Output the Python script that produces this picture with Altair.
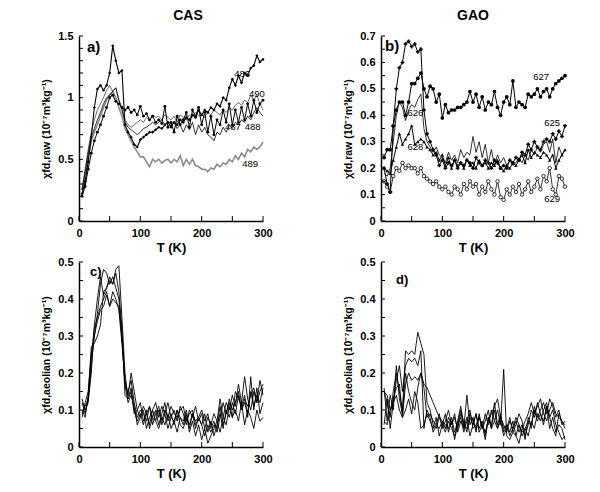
import altair as alt
import pandas as pd

FONT = "Liberation Sans"
W, H = 184, 185

T = [5, 10, 15, 20, 25, 30, 35, 40, 45, 50, 55, 60, 65, 70, 75, 80, 85, 90, 95, 100,
     105, 110, 115, 120, 125, 130, 135, 140, 145, 150, 155, 160, 165, 170, 175, 180, 185, 190, 195, 200,
     205, 210, 215, 220, 225, 230, 235, 240, 245, 250, 255, 260, 265, 270, 275, 280, 285, 290, 295, 300]

# ---- panel a (CAS, raw) ----
a486 = [0.22, 0.32, 0.48, 0.68, 0.92, 1.07, 1.10, 1.06, 1.10, 1.20,
        1.42, 1.30, 1.20, 1.22, 0.78, 0.72, 0.68, 0.62, 0.60, 0.66,
        0.68, 0.70, 0.72, 0.72, 0.74, 0.76, 0.75, 0.78, 0.80, 0.76,
        0.80, 0.78, 0.82, 0.80, 0.84, 0.82, 0.86, 0.84, 0.90, 0.86,
        0.90, 0.88, 0.92, 0.90, 0.95, 0.93, 1.00, 0.98, 1.08, 1.15,
        1.10, 1.18, 1.12, 1.20, 1.18, 1.24, 1.26, 1.34, 1.29, 1.31]
a487 = [0.20, 0.28, 0.42, 0.55, 0.65, 0.72, 0.78, 0.85, 0.92, 1.00,
        1.02, 0.97, 0.95, 0.92, 0.90, 0.92, 0.88, 0.90, 0.86, 0.93,
        0.85, 0.87, 0.82, 0.85, 0.80, 0.82, 0.79, 0.93, 0.76, 0.80,
        0.72, 0.85, 0.78, 0.82, 0.88, 0.76, 0.90, 0.85, 0.92, 0.78,
        0.88, 0.72, 0.85, 0.70, 0.82, 0.78, 0.90, 0.80, 0.95, 0.78,
        0.90, 0.80, 0.92, 0.82, 0.95, 0.85, 0.98, 0.88, 0.95, 0.98]
a488 = [0.25, 0.40, 0.55, 0.68, 0.75, 0.82, 0.88, 0.95, 1.00, 1.02,
        1.05, 1.08, 0.98, 0.90, 0.80, 0.76, 0.74, 0.72, 0.70, 0.72,
        0.75, 0.76, 0.78, 0.80, 0.78, 0.80, 0.82, 0.78, 0.80, 0.77,
        0.80, 0.75, 0.78, 0.72, 0.78, 0.74, 0.80, 0.70, 0.78, 0.72,
        0.76, 0.70, 0.68, 0.65, 0.72, 0.70, 0.76, 0.72, 0.78, 0.75,
        0.80, 0.78, 0.82, 0.80, 0.85, 0.82, 0.88, 0.92, 0.88, 0.85]
a489 = [0.25, 0.38, 0.52, 0.65, 0.72, 0.78, 0.85, 0.92, 0.98, 1.02,
        1.05, 1.00, 0.92, 0.85, 0.75, 0.70, 0.65, 0.60, 0.56, 0.52,
        0.52, 0.48, 0.44, 0.50, 0.48, 0.50, 0.47, 0.49, 0.50, 0.47,
        0.50, 0.48, 0.53, 0.45, 0.50, 0.46, 0.50, 0.45, 0.44, 0.42,
        0.42, 0.40, 0.43, 0.42, 0.46, 0.44, 0.47, 0.46, 0.50, 0.48,
        0.53, 0.50, 0.55, 0.52, 0.58, 0.56, 0.60, 0.58, 0.60, 0.64]
a490 = [0.25, 0.42, 0.58, 0.72, 0.82, 0.90, 0.95, 1.00, 1.06, 1.10,
        1.05, 1.08, 0.98, 0.92, 0.82, 0.78, 0.76, 0.78, 0.80, 0.82,
        0.80, 0.84, 0.82, 0.86, 0.84, 0.85, 0.82, 0.86, 0.84, 0.82,
        0.85, 0.80, 0.86, 0.84, 0.82, 0.86, 0.84, 0.88, 0.85, 0.86,
        0.84, 0.88, 0.86, 0.90, 0.88, 0.86, 0.90, 0.88, 0.92, 0.90,
        0.94, 0.96, 0.94, 0.98, 0.96, 1.02, 0.98, 1.02, 0.95, 0.90]
lbl_a_text = ["486", "490", "487", "488", "489"]
lbl_a_T = [266, 290, 251, 283, 279]
lbl_a_v = [1.19, 1.03, 0.76, 0.76, 0.46]

# ---- panel b (GAO, raw) ----
b625 = [0.20, 0.14, 0.11, 0.36, 0.50, 0.58, 0.60, 0.67, 0.68, 0.66,
        0.67, 0.64, 0.65, 0.42, 0.33, 0.30, 0.27, 0.25, 0.21, 0.23,
        0.20, 0.22, 0.21, 0.23, 0.20, 0.22, 0.21, 0.23, 0.22, 0.20,
        0.24, 0.22, 0.21, 0.23, 0.22, 0.20, 0.23, 0.22, 0.20, 0.21,
        0.20, 0.23, 0.22, 0.24, 0.23, 0.26, 0.25, 0.29, 0.27, 0.30,
        0.28, 0.27, 0.30, 0.31, 0.30, 0.33, 0.31, 0.34, 0.32, 0.36]
b626 = [0.18, 0.17, 0.20, 0.30, 0.40, 0.45, 0.43, 0.38, 0.42, 0.44,
        0.43, 0.46, 0.48, 0.35, 0.30, 0.28, 0.26, 0.28, 0.25, 0.24,
        0.22, 0.26, 0.23, 0.25, 0.22, 0.27, 0.24, 0.26, 0.25, 0.32,
        0.26, 0.30, 0.24, 0.29, 0.22, 0.27, 0.21, 0.25, 0.22, 0.24,
        0.21, 0.23, 0.21, 0.22, 0.24, 0.22, 0.25, 0.23, 0.27, 0.25,
        0.28, 0.26, 0.29, 0.30, 0.26, 0.31, 0.22, 0.28, 0.25, 0.27]
b627 = [0.24, 0.27, 0.27, 0.36, 0.42, 0.45, 0.45, 0.40, 0.45, 0.52,
        0.52, 0.54, 0.56, 0.50, 0.47, 0.51, 0.50, 0.45, 0.48, 0.39,
        0.44, 0.41, 0.42, 0.42, 0.43, 0.43, 0.44, 0.45, 0.49, 0.45,
        0.48, 0.43, 0.47, 0.42, 0.45, 0.44, 0.49, 0.43, 0.40, 0.45,
        0.47, 0.44, 0.53, 0.43, 0.45, 0.44, 0.43, 0.48, 0.47, 0.48,
        0.50, 0.47, 0.49, 0.50, 0.47, 0.50, 0.52, 0.53, 0.54, 0.55]
b628 = [0.20, 0.19, 0.18, 0.23, 0.28, 0.33, 0.29, 0.31, 0.33, 0.36,
        0.29, 0.30, 0.31, 0.30, 0.28, 0.27, 0.25, 0.26, 0.23, 0.25,
        0.21, 0.24, 0.20, 0.23, 0.21, 0.22, 0.20, 0.23, 0.21, 0.22,
        0.20, 0.23, 0.21, 0.22, 0.20, 0.22, 0.21, 0.23, 0.20, 0.19,
        0.21, 0.20, 0.22, 0.21, 0.23, 0.25, 0.22, 0.27, 0.24, 0.26,
        0.25, 0.24, 0.26, 0.25, 0.23, 0.25, 0.20, 0.23, 0.25, 0.27]
b629 = [0.15, 0.13, 0.11, 0.17, 0.20, 0.19, 0.22, 0.20, 0.21, 0.20,
        0.20, 0.18, 0.20, 0.17, 0.16, 0.15, 0.14, 0.15, 0.13, 0.12,
        0.13, 0.11, 0.10, 0.13, 0.12, 0.10, 0.14, 0.12, 0.15, 0.13,
        0.14, 0.10, 0.13, 0.11, 0.15, 0.12, 0.10, 0.15, 0.09, 0.08,
        0.12, 0.10, 0.13, 0.11, 0.14, 0.10, 0.12, 0.15, 0.11, 0.13,
        0.16, 0.12, 0.17, 0.15, 0.20, 0.12, 0.10, 0.17, 0.16, 0.13]
lbl_b_text = ["627", "625", "626", "628", "629"]
lbl_b_T = [261, 279, 56, 56, 279]
lbl_b_v = [0.545, 0.37, 0.41, 0.28, 0.083]

# ---- panel c (CAS, aeolian) ----
c1 = [0.12, 0.09, 0.13, 0.22, 0.30, 0.36, 0.44, 0.48, 0.47, 0.44,
      0.46, 0.43, 0.40, 0.30, 0.16, 0.15, 0.18, 0.12, 0.08, 0.10,
      0.09, 0.07, 0.11, 0.08, 0.10, 0.06, 0.09, 0.12, 0.07, 0.09,
      0.06, 0.10, 0.08, 0.07, 0.10, 0.05, 0.09, 0.07, 0.08, 0.06,
      0.09, 0.04, 0.07, 0.03, 0.06, 0.09, 0.05, 0.10, 0.08, 0.12,
      0.09, 0.14, 0.10, 0.12, 0.09, 0.15, 0.11, 0.14, 0.12, 0.16]
c2 = [0.08, 0.12, 0.15, 0.25, 0.32, 0.35, 0.38, 0.40, 0.42, 0.38,
      0.42, 0.40, 0.37, 0.28, 0.18, 0.14, 0.20, 0.15, 0.10, 0.08,
      0.11, 0.09, 0.06, 0.10, 0.12, 0.08, 0.11, 0.09, 0.12, 0.08,
      0.10, 0.07, 0.11, 0.09, 0.06, 0.10, 0.08, 0.11, 0.07, 0.09,
      0.05, 0.08, 0.06, 0.09, 0.07, 0.13, 0.08, 0.12, 0.10, 0.14,
      0.11, 0.17, 0.12, 0.19, 0.13, 0.10, 0.15, 0.12, 0.18, 0.14]
c3 = [0.10, 0.08, 0.14, 0.27, 0.28, 0.30, 0.33, 0.42, 0.43, 0.45,
      0.44, 0.48, 0.49, 0.35, 0.20, 0.13, 0.16, 0.10, 0.07, 0.09,
      0.06, 0.10, 0.05, 0.08, 0.07, 0.10, 0.06, 0.09, 0.05, 0.08,
      0.07, 0.04, 0.08, 0.06, 0.09, 0.04, 0.07, 0.03, 0.06, 0.02,
      0.05, 0.01, 0.03, 0.05, 0.07, 0.04, 0.08, 0.06, 0.11, 0.08,
      0.10, 0.07, 0.12, 0.06, 0.10, 0.08, 0.05, 0.10, 0.07, 0.08]
c4 = [0.13, 0.10, 0.12, 0.20, 0.33, 0.40, 0.46, 0.41, 0.43, 0.46,
      0.44, 0.47, 0.42, 0.32, 0.14, 0.13, 0.15, 0.09, 0.10, 0.12,
      0.07, 0.09, 0.11, 0.06, 0.09, 0.11, 0.07, 0.10, 0.08, 0.11,
      0.09, 0.08, 0.10, 0.11, 0.07, 0.09, 0.10, 0.06, 0.08, 0.10,
      0.07, 0.09, 0.05, 0.07, 0.04, 0.08, 0.12, 0.09, 0.13, 0.10,
      0.12, 0.15, 0.10, 0.13, 0.11, 0.14, 0.16, 0.12, 0.15, 0.17]
c5 = [0.09, 0.11, 0.13, 0.24, 0.30, 0.34, 0.37, 0.38, 0.41, 0.38,
      0.40, 0.39, 0.38, 0.30, 0.17, 0.12, 0.14, 0.11, 0.06, 0.08,
      0.10, 0.05, 0.08, 0.10, 0.07, 0.05, 0.08, 0.06, 0.09, 0.05,
      0.07, 0.10, 0.06, 0.05, 0.08, 0.06, 0.09, 0.05, 0.08, 0.06,
      0.03, 0.06, 0.04, 0.06, 0.05, 0.11, 0.06, 0.09, 0.12, 0.08,
      0.15, 0.13, 0.11, 0.14, 0.08, 0.19, 0.10, 0.16, 0.09, 0.12]

# ---- panel d (GAO, aeolian) ----
d1 = [0.15, 0.12, 0.08, 0.15, 0.20, 0.15, 0.10, 0.26, 0.25, 0.26,
      0.25, 0.31, 0.28, 0.25, 0.12, 0.10, 0.06, 0.05, 0.08, 0.06,
      0.09, 0.04, 0.07, 0.02, 0.06, 0.10, 0.05, 0.14, 0.06, 0.08,
      0.04, 0.09, 0.05, 0.07, 0.10, 0.05, 0.12, 0.06, 0.09, 0.04,
      0.06, 0.03, 0.05, 0.07, 0.04, 0.06, 0.02, 0.08, 0.05, 0.11,
      0.08, 0.10, 0.12, 0.09, 0.13, 0.11, 0.08, 0.10, 0.06, 0.07]
d2 = [0.06, 0.13, 0.05, 0.12, 0.18, 0.22, 0.15, 0.22, 0.24, 0.23,
      0.24, 0.22, 0.26, 0.05, 0.10, 0.08, 0.04, 0.06, 0.09, 0.05,
      0.07, 0.10, 0.06, 0.08, 0.05, 0.09, 0.07, 0.04, 0.08, 0.06,
      0.09, 0.05, 0.07, 0.03, 0.08, 0.06, 0.10, 0.05, 0.07, 0.03,
      0.05, 0.08, 0.04, 0.06, 0.09, 0.07, 0.03, 0.06, 0.10, 0.08,
      0.12, 0.09, 0.07, 0.11, 0.08, 0.05, 0.03, 0.09, 0.07, 0.05]
d3 = [0.15, 0.14, 0.10, 0.13, 0.16, 0.17, 0.08, 0.17, 0.20, 0.18,
      0.19, 0.18, 0.20, 0.17, 0.16, 0.14, 0.12, 0.10, 0.08, 0.07,
      0.05, 0.08, 0.06, 0.09, 0.04, 0.07, 0.05, 0.08, 0.03, 0.06,
      0.09, 0.04, 0.06, 0.02, 0.08, 0.05, 0.07, 0.10, 0.06, 0.21,
      0.03, 0.02, 0.04, 0.03, 0.06, 0.04, 0.05, 0.03, 0.07, 0.05,
      0.09, 0.07, 0.10, 0.12, 0.08, 0.10, 0.06, 0.04, 0.02, 0.03]
d4 = [0.07, 0.06, 0.10, 0.12, 0.14, 0.10, 0.08, 0.10, 0.13, 0.09,
      0.15, 0.12, 0.05, 0.06, 0.09, 0.07, 0.05, 0.08, 0.03, 0.06,
      0.04, 0.07, 0.05, 0.03, 0.06, 0.08, 0.04, 0.07, 0.10, 0.05,
      0.06, 0.08, 0.05, 0.09, 0.06, 0.10, 0.07, 0.05, 0.08, 0.06,
      0.04, 0.07, 0.05, 0.08, 0.06, 0.03, 0.05, 0.07, 0.06, 0.10,
      0.07, 0.09, 0.06, 0.11, 0.05, 0.08, 0.04, 0.06, 0.05, 0.02]
d5 = [0.16, 0.07, 0.14, 0.10, 0.22, 0.13, 0.09, 0.20, 0.15, 0.12,
      0.10, 0.16, 0.20, 0.16, 0.08, 0.09, 0.07, 0.06, 0.05, 0.07,
      0.06, 0.05, 0.08, 0.04, 0.07, 0.11, 0.06, 0.05, 0.09, 0.07,
      0.05, 0.08, 0.06, 0.04, 0.07, 0.09, 0.11, 0.13, 0.08, 0.05,
      0.06, 0.04, 0.07, 0.03, 0.01, 0.05, 0.07, 0.09, 0.12, 0.09,
      0.11, 0.13, 0.09, 0.07, 0.10, 0.12, 0.09, 0.08, 0.07, 0.06]

X_LABELS = [0, 100, 200, 300]
X_TICKS = [0, 50, 100, 150, 200, 250, 300]
A_LABELS = [0, 0.5, 1, 1.5]
A_TICKS = [0, 0.1, 0.2, 0.3, 0.4, 0.5, 0.6, 0.7, 0.8, 0.9, 1.0, 1.1, 1.2, 1.3, 1.4, 1.5]
B_LABELS = [0, 0.1, 0.2, 0.3, 0.4, 0.5, 0.6, 0.7]
B_TICKS = [0, 0.05, 0.1, 0.15, 0.2, 0.25, 0.3, 0.35, 0.4, 0.45, 0.5, 0.55, 0.6, 0.65, 0.7]
CD_LABELS = [0, 0.1, 0.2, 0.3, 0.4, 0.5]
CD_TICKS = [0, 0.05, 0.1, 0.15, 0.2, 0.25, 0.3, 0.35, 0.4, 0.45, 0.5]

TITLE_RAW = "χfd,raw (10⁻⁷m³kg⁻¹)"
TITLE_AEO = "χfd,aeolian (10⁻⁷m³kg⁻¹)"


def panel(specs, ymax, ylabels, yticks, ytitle, letter, letter_pos,
          lbl_text=None, lbl_T=None, lbl_v=None, title=None):
    xs = alt.Scale(domain=[0, 300], nice=False, zero=False, padding=0)
    ys = alt.Scale(domain=[0, ymax], nice=False, zero=False, padding=0)
    xa = alt.Axis(values=X_LABELS, format="d", title="T (K)", ticks=False, labelFlush=False)
    ya = alt.Axis(values=ylabels, format="~g", title=ytitle, ticks=False, labelFlush=False)
    X = alt.X("T:Q", scale=xs, axis=xa)
    Y = alt.Y("v:Q", scale=ys, axis=ya)
    layers = []
    for vals, color, sw, pt in specs:
        df = pd.DataFrame({"T": T, "v": vals})
        if pt is None:
            m = alt.Chart(df).mark_line(color=color, strokeWidth=sw)
        else:
            m = alt.Chart(df).mark_line(color=color, strokeWidth=sw, point=pt)
        layers.append(m.encode(x=X, y=Y))
    # inward tick marks
    ytk = pd.DataFrame({"v": yticks})
    layers.append(alt.Chart(ytk).mark_rule(color="black", strokeWidth=1).encode(
        y=Y, x=alt.value(0), x2=alt.value(4)))
    xtk = pd.DataFrame({"T": X_TICKS})
    layers.append(alt.Chart(xtk).mark_rule(color="black", strokeWidth=1).encode(
        x=X, y=alt.value(H), y2=alt.value(H - 5)))
    if lbl_text is not None:
        ldf = pd.DataFrame({"T": lbl_T, "v": lbl_v, "s": lbl_text})
        layers.append(alt.Chart(ldf).mark_text(font=FONT, fontSize=9.5, color="black").encode(
            x=X, y=Y, text="s:N"))
    let = pd.DataFrame({"s": [letter]})
    layers.append(alt.Chart(let).mark_text(font=FONT, fontSize=letter_pos[2], fontWeight="bold",
                                           align="left", baseline="top", color="black").encode(
        x=alt.value(letter_pos[0]), y=alt.value(letter_pos[1]), text="s:N"))
    ch = alt.layer(*layers).properties(width=W, height=H)
    if title is not None:
        ch = ch.properties(title=title)
    return ch


def P(shape, size, filled=True):
    if filled:
        return alt.OverlayMarkDef(shape=shape, size=size, filled=True, color="black")
    return alt.OverlayMarkDef(shape=shape, size=size, filled=False, fill="white",
                              stroke="black", strokeWidth=0.8)


pa = panel([
    (a489, "#8a8a8a", 1.6, None),
    (a490, "#444444", 0.8, None),
    (a488, "black", 0.8, None),
    (a487, "black", 1.0, P("circle", 8)),
    (a486, "black", 1.1, P("diamond", 10)),
], 1.5, A_LABELS, A_TICKS, TITLE_RAW, "a)", (8, 4, 15),
    lbl_a_text, lbl_a_T, lbl_a_v,
    title=alt.TitleParams("CAS", dx=17, offset=7))

pb = panel([
    (b629, "black", 0.8, P("circle", 12, filled=False)),
    (b628, "black", 1.0, P("triangle-up", 12)),
    (b626, "black", 0.8, None),
    (b625, "black", 1.0, P("cross", 14)),
    (b627, "black", 1.0, P("circle", 14)),
], 0.7, B_LABELS, B_TICKS, TITLE_RAW, "b)", (4, 3, 15),
    lbl_b_text, lbl_b_T, lbl_b_v,
    title=alt.TitleParams("GAO", offset=7))

pc = panel([
    (c1, "black", 0.9, None),
    (c2, "black", 0.9, None),
    (c3, "black", 0.9, None),
    (c4, "black", 0.9, None),
    (c5, "black", 0.9, None),
], 0.5, CD_LABELS, CD_TICKS, TITLE_AEO, "c)", (11, 4, 13))

pd_ = panel([
    (d1, "black", 0.9, None),
    (d2, "black", 0.9, None),
    (d3, "black", 0.9, None),
    (d4, "black", 0.9, None),
    (d5, "black", 0.9, None),
], 0.5, CD_LABELS, CD_TICKS, TITLE_AEO, "d)", (15, 12, 13))

top = alt.hconcat(pa, pb, spacing=70)
bottom = alt.hconcat(pc, pd_, spacing=70)

chart = alt.vconcat(top, bottom, spacing=2).properties(
    padding={"left": 33, "top": 1, "right": 5, "bottom": 5}
).configure_view(stroke=None).configure_axis(
    grid=False, domainColor="black", domainWidth=1.5,
    labelFont=FONT, labelFontSize=11, labelFontWeight="bold", labelColor="black",
    titleFont=FONT, titleColor="black", labelPadding=6,
).configure_axisX(
    titleFontSize=13, titleFontWeight="bold", titlePadding=3,
).configure_axisY(
    titleFontSize=10.5, titleFontWeight="bold", titlePadding=6,
).configure_title(
    font=FONT, fontSize=14, fontWeight="bold", color="black", anchor="middle", frame="group"
)

chart.save("out.html", embed_options={"renderer": "svg", "actions": False})
